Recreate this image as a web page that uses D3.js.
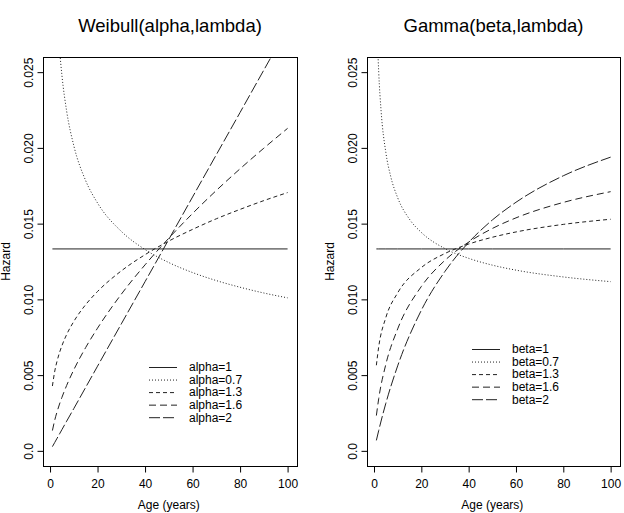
<!DOCTYPE html>
<html>
<head>
<meta charset="utf-8">
<script src="https://cdn.jsdelivr.net/npm/d3@7"></script>
<style>
  body { margin: 0; background: #fff; }
  svg { display: block; font-family: "Liberation Sans", Arial, Helvetica, sans-serif; }
  .tick line { stroke: #000; }
  .tick text { fill: #000; font-size: 12px; }
</style>
</head>
<body>
<svg id="chart" width="624" height="513"></svg>
<script>
// ---- data ----
const weibullAges = [1, 2, 3, 4, 5, 7, 10, 15, 20, 30, 40, 50, 60, 70, 80, 90, 100];
const weibullA1   = [0.01333, 0.01333, 0.01333, 0.01333, 0.01333, 0.01333, 0.01333, 0.01333, 0.01333, 0.01333, 0.01333, 0.01333, 0.01333, 0.01333, 0.01333, 0.01333, 0.01333];
const weibullA07  = [0.04019, 0.03265, 0.02891, 0.02652, 0.02480, 0.02242, 0.02015, 0.01784, 0.01636, 0.01449, 0.01329, 0.01243, 0.01177, 0.01124, 0.01080, 0.01042, 0.01010];
const weibullA13  = [0.00428, 0.00527, 0.00595, 0.00649, 0.00694, 0.00768, 0.00854, 0.00965, 0.01052, 0.01188, 0.01295, 0.01385, 0.01462, 0.01532, 0.01594, 0.01652, 0.01705];
const weibullA16  = [0.00134, 0.00204, 0.00260, 0.00309, 0.00353, 0.00432, 0.00535, 0.00682, 0.00810, 0.01034, 0.01228, 0.01404, 0.01567, 0.01719, 0.01862, 0.01998, 0.02129];
const weibullA2   = [0.00028, 0.00056, 0.00084, 0.00112, 0.00140, 0.00196, 0.00279, 0.00419, 0.00559, 0.00838, 0.01117, 0.01396, 0.01676, 0.01955, 0.02234, 0.02514, 0.02793];

const gammaAges   = [1, 2, 5, 10, 20, 30, 40, 50, 60, 80, 100];
const gammaAges07 = [1, 1.5, 2, 3, 5, 7, 10, 15, 20, 30, 40, 50, 60, 80, 100];
const gammaB1     = [0.01333, 0.01333, 0.01333, 0.01333, 0.01333, 0.01333, 0.01333, 0.01333, 0.01333, 0.01333, 0.01333];
const gammaB07    = [0.03021, 0.02701, 0.02498, 0.02244, 0.01970, 0.01815, 0.01671, 0.01529, 0.01442, 0.01335, 0.01271, 0.01226, 0.01193, 0.01148, 0.01117];
const gammaB13    = [0.00565, 0.00688, 0.00880, 0.01043, 0.01210, 0.01303, 0.01365, 0.01410, 0.01445, 0.01495, 0.01529];
const gammaB16    = [0.00233, 0.00346, 0.00571, 0.00805, 0.01085, 0.01258, 0.01378, 0.01468, 0.01538, 0.01640, 0.01711];
const gammaB2     = [0.00069, 0.00135, 0.00314, 0.00561, 0.00928, 0.01185, 0.01376, 0.01524, 0.01641, 0.01816, 0.01939];

const xTicks = [0, 20, 40, 60, 80, 100];
const yTicks = [0, 0.005, 0.010, 0.015, 0.020, 0.025];
const yTickLabels = ["0.0", "0.005", "0.010", "0.015", "0.020", "0.025"];

const weibullLabels = ["alpha=1", "alpha=0.7", "alpha=1.3", "alpha=1.6", "alpha=2"];
const gammaLabels   = ["beta=1", "beta=0.7", "beta=1.3", "beta=1.6", "beta=2"];

// ---- layout ----
const dashes = [null, "1,2", "4,3", "7,4", "11,3"];
const plotTop = 57, plotBottom = 466;

const svg = d3.select('#chart');

function drawPanel(cfg) {
    const x = d3.scaleLinear().domain([-2.96, 103.96]).range([cfg.left, cfg.right]);
    const y = d3.scaleLinear().domain([-0.001, 0.026]).range([plotBottom, plotTop]);

    const g = svg.append('g');

    // title
    g.append('text')
        .attr('x', (cfg.left + cfg.right) / 2)
        .attr('y', 32)
        .attr('text-anchor', 'middle')
        .style('font-size', '18.5px')
        .text(cfg.title);

    // clip to plot region
    g.append('clipPath').attr('id', cfg.id)
        .append('rect')
        .attr('x', cfg.left).attr('y', plotTop)
        .attr('width', cfg.right - cfg.left).attr('height', plotBottom - plotTop);

    const line = d3.line()
        .x(d => x(d[0]))
        .y(d => y(d[1]))
        .curve(d3.curveMonotoneX);

    const curves = g.append('g').attr('clip-path', `url(#${cfg.id})`);
    cfg.series.forEach((s, i) => {
        const pts = s.ages.map((a, j) => [a, s.values[j]]);
        curves.append('path')
            .attr('d', line(pts))
            .attr('fill', 'none')
            .attr('stroke', '#222')
            .attr('stroke-width', 1)
            .attr('stroke-dasharray', dashes[i]);
    });

    // axes
    const xAxis = d3.axisBottom(x).tickValues(xTicks).tickSize(6).tickPadding(7);
    g.append('g')
        .attr('transform', `translate(0, ${plotBottom + 0.5})`)
        .call(xAxis)
        .call(a => a.select('.domain').remove());

    const yAxis = d3.axisLeft(y).tickValues(yTicks).tickSize(6)
        .tickFormat((d, i) => yTickLabels[i]);
    g.append('g')
        .attr('transform', `translate(${cfg.left + 0.5}, 0)`)
        .call(yAxis)
        .call(a => a.select('.domain').remove())
        .call(a => a.selectAll('.tick text')
            .attr('x', null).attr('dy', null)
            .attr('text-anchor', 'middle')
            .attr('transform', 'translate(-11,0) rotate(-90)'));

    // box
    g.append('rect')
        .attr('x', cfg.left + 0.5).attr('y', plotTop + 0.5)
        .attr('width', cfg.right - cfg.left).attr('height', plotBottom - plotTop)
        .attr('fill', 'none').attr('stroke', '#000');

    // axis titles
    g.append('text')
        .attr('x', (x(0) + x(100)) / 2)
        .attr('y', 509)
        .attr('text-anchor', 'middle')
        .style('font-size', '12px')
        .text('Age (years)');
    g.append('text')
        .attr('transform', `translate(${cfg.left - 33}, ${(plotTop + plotBottom) / 2}) rotate(-90)`)
        .attr('text-anchor', 'middle')
        .style('font-size', '12px')
        .text('Hazard');

    // legend
    const leg = g.append('g').attr('transform', `translate(${cfg.legX}, ${cfg.legY})`);
    cfg.labels.forEach((lab, i) => {
        const row = leg.append('g').attr('transform', `translate(0, ${i * 12.55})`);
        row.append('line')
            .attr('x1', 0).attr('x2', 28).attr('y1', 0.5).attr('y2', 0.5)
            .attr('stroke', '#222')
            .attr('stroke-dasharray', dashes[i]);
        row.append('text')
            .attr('x', 40).attr('y', 0).attr('dy', '0.36em')
            .style('font-size', '12px')
            .text(lab);
    });
}

drawPanel({
    id: 'clipW', left: 43, right: 297, title: 'Weibull(alpha,lambda)',
    labels: weibullLabels, legX: 149, legY: 367,
    series: [
        { ages: [1, 100], values: [weibullA1[0], weibullA1[weibullA1.length - 1]] },
        { ages: weibullAges, values: weibullA07 },
        { ages: weibullAges, values: weibullA13 },
        { ages: weibullAges, values: weibullA16 },
        { ages: weibullAges, values: weibullA2 }
    ]
});

drawPanel({
    id: 'clipG', left: 367, right: 620, title: 'Gamma(beta,lambda)',
    labels: gammaLabels, legX: 472, legY: 349,
    series: [
        { ages: gammaAges, values: gammaB1 },
        { ages: gammaAges07, values: gammaB07 },
        { ages: gammaAges, values: gammaB13 },
        { ages: gammaAges, values: gammaB16 },
        { ages: gammaAges, values: gammaB2 }
    ]
});
</script>
</body>
</html>
